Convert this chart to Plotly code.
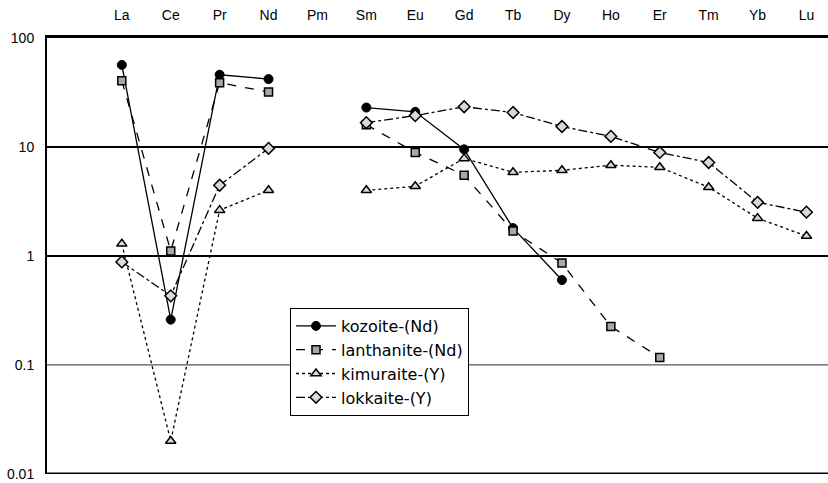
import plotly.graph_objects as go

elements = ["La", "Ce", "Pr", "Nd", "Pm", "Sm", "Eu", "Gd", "Tb", "Dy", "Ho", "Er", "Tm", "Yb", "Lu"]

kozoite = [56.6, 0.26, 46, 42, None, 23, 21, 9.5, 1.8, 0.60, None, None, None, None, None]
lanthanite = [40.5, 1.11, 38.8, 32, None, 16, 8.9, 5.5, 1.69, 0.86, 0.225, 0.117, None, None, None]
kimuraite = [1.29, 0.020, 2.63, 4.0, None, 4.0, 4.36, 7.85, 5.85, 6.1, 6.8, 6.5, 4.27, 2.22, 1.52]
lokkaite = [0.88, 0.43, 4.45, 9.7, None, 16.7, 19.4, 23.4, 20.7, 15.4, 12.5, 8.9, 7.2, 3.1, 2.52]

ytick_vals = [0.01, 0.1, 1, 10, 100]
ytick_text = ["0.01", "0.1", "1", "10", "100"]

fig = go.Figure()

series = [
    ("kozoite-(Nd)", kozoite, "solid", dict(symbol="circle", size=9, color="black", line=dict(color="black", width=1))),
    ("lanthanite-(Nd)", lanthanite, "dash", dict(symbol="square", size=8, color="#a8a8a8", line=dict(color="black", width=1.5))),
    ("kimuraite-(Y)", kimuraite, "dot", dict(symbol="triangle-up", size=9, color="#d9d9d9", line=dict(color="black", width=1.5))),
    ("lokkaite-(Y)", lokkaite, "dashdot", dict(symbol="diamond", size=9, color="#d9d9d9", line=dict(color="black", width=1.5))),
]

for name, vals, dash, marker in series:
    fig.add_trace(go.Scatter(
        x=list(range(len(elements))), y=vals, name=name, mode="lines+markers",
        line=dict(color="black", width=1.3, dash=dash), marker=marker,
        connectgaps=False,
    ))

# horizontal grid lines at decades
grid_style = {0.1: ("#555555", 1.2), 1: ("black", 2), 10: ("black", 2)}
for v, (c, w) in grid_style.items():
    fig.add_shape(type="line", xref="paper", x0=0, x1=1, yref="y", y0=v, y1=v,
                  line=dict(color=c, width=w), layer="below")
fig.add_shape(type="line", xref="paper", x0=0, x1=1, yref="y", y0=0.01, y1=0.01,
              line=dict(color="black", width=2.5), layer="above")

plot_h = 483 - 38 - 9

fig.update_layout(
    width=828, height=483,
    margin=dict(l=47, r=0, t=38, b=9),
    paper_bgcolor="white", plot_bgcolor="white",
    font=dict(family="Liberation Sans, Arial, sans-serif", size=14, color="black"),
    showlegend=True,
    legend=dict(
        x=(290 - 47) / 781, y=(plot_h - (308 - 38)) / plot_h, xanchor="left", yanchor="top",
        bgcolor="white", bordercolor="black", borderwidth=1,
        font=dict(family="DejaVu Sans, sans-serif", size=16, color="black"), tracegroupgap=0,
        itemwidth=40,
    ),
    xaxis=dict(
        side="top", range=[-1.53, 14.44], tickmode="array",
        tickvals=list(range(len(elements))), ticktext=elements,
        showgrid=False, zeroline=False, showline=True, linecolor="black", linewidth=3,
        ticks="outside", ticklen=9, tickcolor="rgba(0,0,0,0)", automargin=False,
    ),
    yaxis=dict(
        type="log", range=[-2.002, 2], tickmode="array", tickvals=ytick_vals, ticktext=ytick_text,
        showgrid=False, zeroline=False, showline=True, linecolor="black", linewidth=2,
        ticks="outside", ticklen=8, tickcolor="rgba(0,0,0,0)", automargin=False,
        ticklabeloverflow="allow",
    ),
)

fig.write_html("out.html", config={"displayModeBar": False},
               post_script="document.body.style.margin='0';document.body.style.overflow='hidden';")
